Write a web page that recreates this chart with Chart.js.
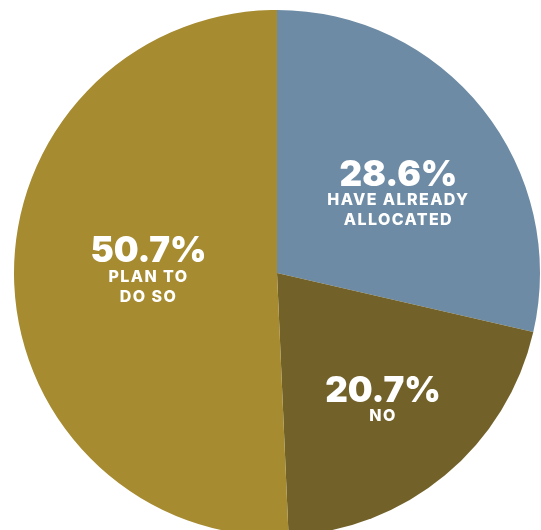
<!DOCTYPE html>
<html>
<head>
<meta charset="utf-8">
<script src="https://cdn.jsdelivr.net/npm/chart.js@4"></script>
<style>
  html, body { margin: 0; padding: 0; background: #fff; overflow: hidden; }
  #wrap { position: absolute; left: 0; top: 0; }
</style>
</head>
<body>
<div id="wrap"><canvas id="chart" width="554" height="546"></canvas></div>
<script>
// slices, clockwise from 12 o'clock
var categories = ['HAVE ALREADY ALLOCATED', 'NO', 'PLAN TO DO SO'];
var values = [28.6, 20.7, 50.7];
var labelLines = [['HAVE ALREADY', 'ALLOCATED'], ['NO'], ['PLAN TO', 'DO SO']];
var colors = ['#6d8ba4', '#72622a', '#a68b30'];

var FONT = 'Inter, "DejaVu Sans", sans-serif';

// draws the percentage + caption inside each slice
var sliceLabels = {
    id: 'sliceLabels',
    afterDatasetsDraw: function(chart, args, opts) {
        var ctx = chart.ctx;
        var meta = chart.getDatasetMeta(0);
        meta.data.forEach(function(arc, i) {
            var mid = (arc.startAngle + arc.endAngle) / 2;
            var r = arc.outerRadius * opts.radius[i];
            var x = arc.x + Math.cos(mid) * r + opts.shiftX[i];
            var y = arc.y + Math.sin(mid) * r + opts.shiftY[i];
            ctx.save();
            ctx.fillStyle = '#fff';
            ctx.textAlign = 'center';
            ctx.textBaseline = 'middle';
            ctx.font = '900 35px ' + FONT;
            ctx.fillText(values[i].toFixed(1) + '%', x, y);
            ctx.font = '800 16px ' + FONT;
            if ('letterSpacing' in ctx) ctx.letterSpacing = '1.4px';
            labelLines[i].forEach(function(line, j) {
                ctx.fillText(line, x, y + 25 + j * 20);
            });
            ctx.restore();
        });
    }
};

new Chart(document.getElementById('chart'), {
    type: 'pie',
    data: {
        labels: categories,
        datasets: [{
            data: values,
            backgroundColor: colors,
            borderWidth: 0
        }]
    },
    options: {
        responsive: false,
        animation: false,
        layout: { padding: 10 },
        plugins: {
            legend: { display: false },
            tooltip: { enabled: false },
            sliceLabels: {
                radius: [0.59, 0.6, 0.5],
                shiftX: [0, 5, 3],
                shiftY: [-1, -3, -24]
            }
        }
    },
    plugins: [sliceLabels]
});
</script>
</body>
</html>
